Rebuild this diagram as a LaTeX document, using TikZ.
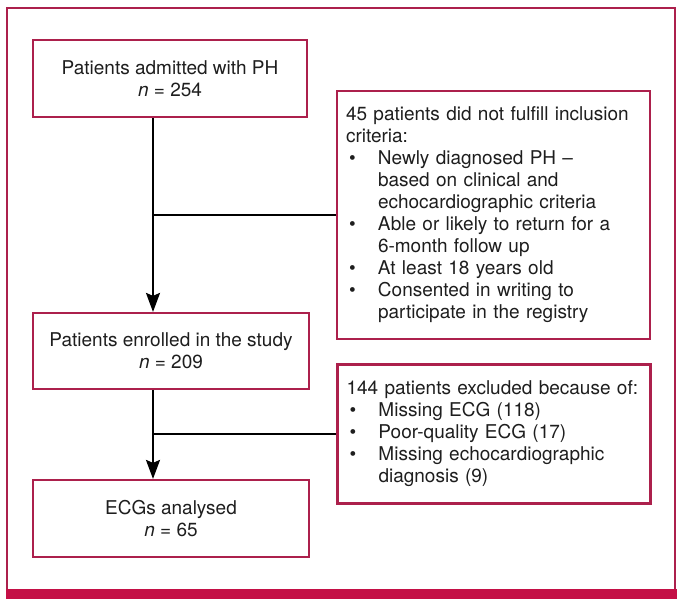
\documentclass[tikz,border=0pt]{standalone}
\usepackage{fontspec}
\setmainfont{TeX Gyre Heros}
\usetikzlibrary{arrows.meta,calc}
\definecolor{framecol}{RGB}{172,32,76}
\definecolor{barcol}{RGB}{196,16,70}
\definecolor{txtcol}{RGB}{30,30,30}
\tikzset{
  flowbox/.style={draw=framecol, line width=2.2pt, fill=white, align=center, inner sep=0pt, text=txtcol,
    font=\fontsize{19}{22}\selectfont},
  sidebox/.style={draw=framecol, line width=2.2pt, fill=white, align=left, inner xsep=9pt, inner ysep=0pt,
    text width=295pt, text=txtcol, font=\fontsize{19}{22}\selectfont},
  flowline/.style={line width=2pt, black},
  flowarrow/.style={flowline, -{Stealth[length=19pt,width=14pt,inset=3pt]}},
}
\newcommand{\bul}{\hspace*{3pt}\makebox[29pt][l]{\textbullet}}
\newcommand{\ind}{\hspace*{32pt}}
\begin{document}
\begin{tikzpicture}[x=1pt,y=-1pt]
\useasboundingbox (0,0) rectangle (682,599);
\fill[white] (0,0) rectangle (682,599);
% outer frame
\draw[framecol, line width=2pt] (7,8) rectangle (675,592);
\fill[barcol] (6,589) rectangle (677,599);

\node[flowbox, minimum width=274pt, minimum height=77pt] (admit) at (170,78.5)
  {Patients admitted with PH\\\textit{n} = 254};
\node[flowbox, minimum width=276pt, minimum height=76pt] (enrol) at (171,351)
  {Patients enrolled in the study\\\textit{n} = 209};
\node[flowbox, minimum width=276pt, minimum height=77pt] (ecg) at (171,518.5)
  {ECGs analysed\\\textit{n} = 65};
\node[sidebox, minimum height=248pt] (incl) at (493.5,215)
  {45 patients did not fulfill inclusion\\
   criteria:\\
   \bul Newly diagnosed PH –\\
   \ind based on clinical and\\
   \ind echocardiographic criteria\\
   \bul Able or likely to return for a\\
   \ind 6-month follow up\\
   \bul At least 18 years old\\
   \bul Consented in writing to\\
   \ind participate in the registry};
\node[sidebox, minimum height=139pt] (excl) at (494,434)
  {144 patients excluded because of:\\
   \bul Missing ECG (118)\\
   \bul Poor-quality ECG (17)\\
   \bul Missing echocardiographic\\
   \ind diagnosis (9)};

\coordinate (vx) at (153,0);
\draw[flowarrow] (admit.south -| vx) -- (enrol.north -| vx);
\draw[flowline] (vx |- incl.west) -- (incl.west);
\draw[flowarrow] (enrol.south -| vx) -- (ecg.north -| vx);
\draw[flowline] (vx |- excl.west) -- (excl.west);
\end{tikzpicture}
\end{document}
